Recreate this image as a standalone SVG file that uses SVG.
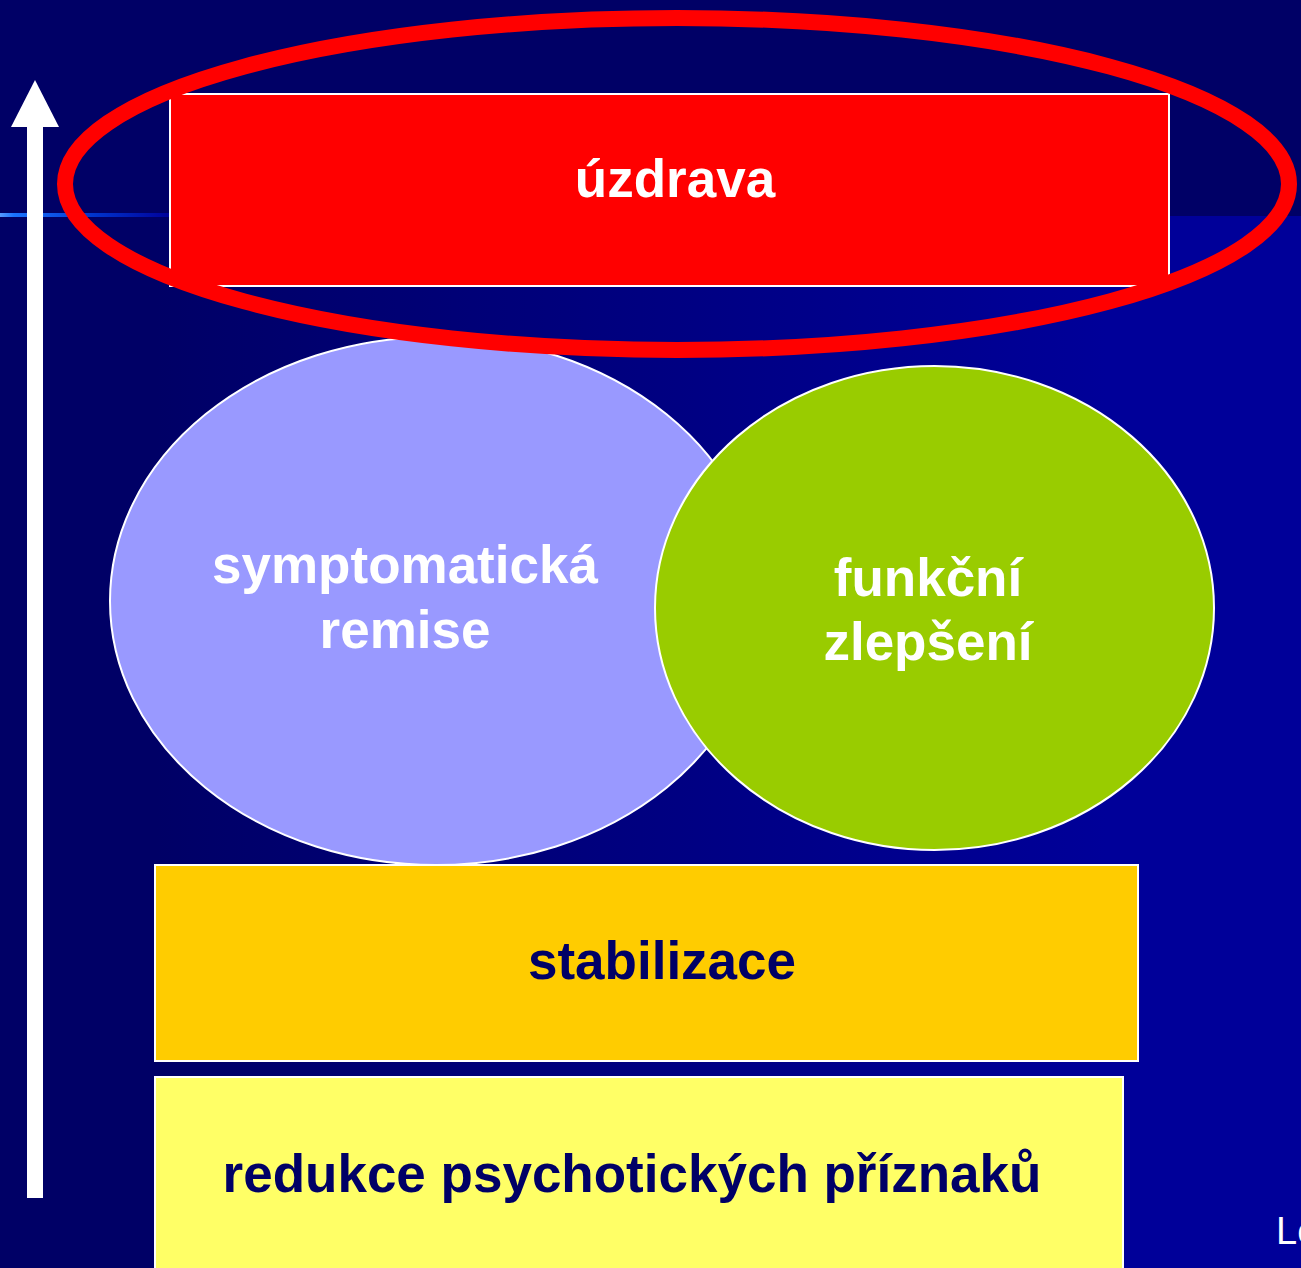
<svg xmlns="http://www.w3.org/2000/svg" width="1301" height="1268" viewBox="0 0 1301 1268">
<defs>
<linearGradient id="bodyGrad" x1="0" y1="0" x2="1301" y2="0" gradientUnits="userSpaceOnUse">
<stop offset="0.12" stop-color="#000066"/>
<stop offset="0.85" stop-color="#000099"/>
</linearGradient>
<linearGradient id="lineGrad" x1="0" y1="0" x2="172" y2="0" gradientUnits="userSpaceOnUse">
<stop offset="0" stop-color="#5599ff"/>
<stop offset="0.08" stop-color="#1a73ff"/>
<stop offset="0.55" stop-color="#0033cc"/>
<stop offset="1" stop-color="#000099"/>
</linearGradient>
<style>
.box{stroke:#ffffff;stroke-width:2}
.lbl{font-family:"Liberation Sans",Arial,sans-serif;font-weight:bold;font-size:53px;text-anchor:middle}
.w{fill:#ffffff}
.d{fill:#000066}
</style>
</defs>
<rect x="0" y="0" width="1301" height="1268" fill="#000066"/>
<rect x="0" y="216" width="1301" height="1052" fill="url(#bodyGrad)"/>
<rect x="0" y="213" width="172" height="4" fill="url(#lineGrad)"/>
<g id="arrow">
<rect x="27" y="126" width="16" height="1072" fill="#ffffff"/>
<polygon points="35,80 59,127 11,127" fill="#ffffff"/>
</g>
<g id="uzdrava">
<rect class="box" x="170" y="94" width="999" height="192" fill="#ff0000"/>
<text class="lbl w" x="675" y="197">úzdrava</text>
</g>
<g id="symptomaticka-remise">
<ellipse class="box" cx="436" cy="601" rx="326" ry="264" fill="#9999ff"/>
<text class="lbl w" x="405" y="583">symptomatická</text>
<text class="lbl w" x="405" y="648">remise</text>
</g>
<g id="funkcni-zlepseni">
<ellipse class="box" cx="934.5" cy="608" rx="279.5" ry="242" fill="#99cc00"/>
<text class="lbl w" x="928" y="596">funkční</text>
<text class="lbl w" x="928" y="660">zlepšení</text>
</g>
<g id="stabilizace">
<rect class="box" x="155" y="865" width="983" height="196" fill="#ffcc00"/>
<text class="lbl d" x="662" y="979">stabilizace</text>
</g>
<g id="redukce">
<rect class="box" x="155" y="1077" width="968" height="200" fill="#ffff66"/>
<text class="lbl d" x="632" y="1192">redukce psychotických příznaků</text>
</g>
<g id="highlight">
<ellipse cx="677" cy="184" rx="612" ry="166" fill="none" stroke="#ff0000" stroke-width="16"/>
</g>
<text x="1276" y="1244" font-family="'Liberation Sans',Arial,sans-serif" font-size="38" fill="#ffffff">Le</text>
</svg>
